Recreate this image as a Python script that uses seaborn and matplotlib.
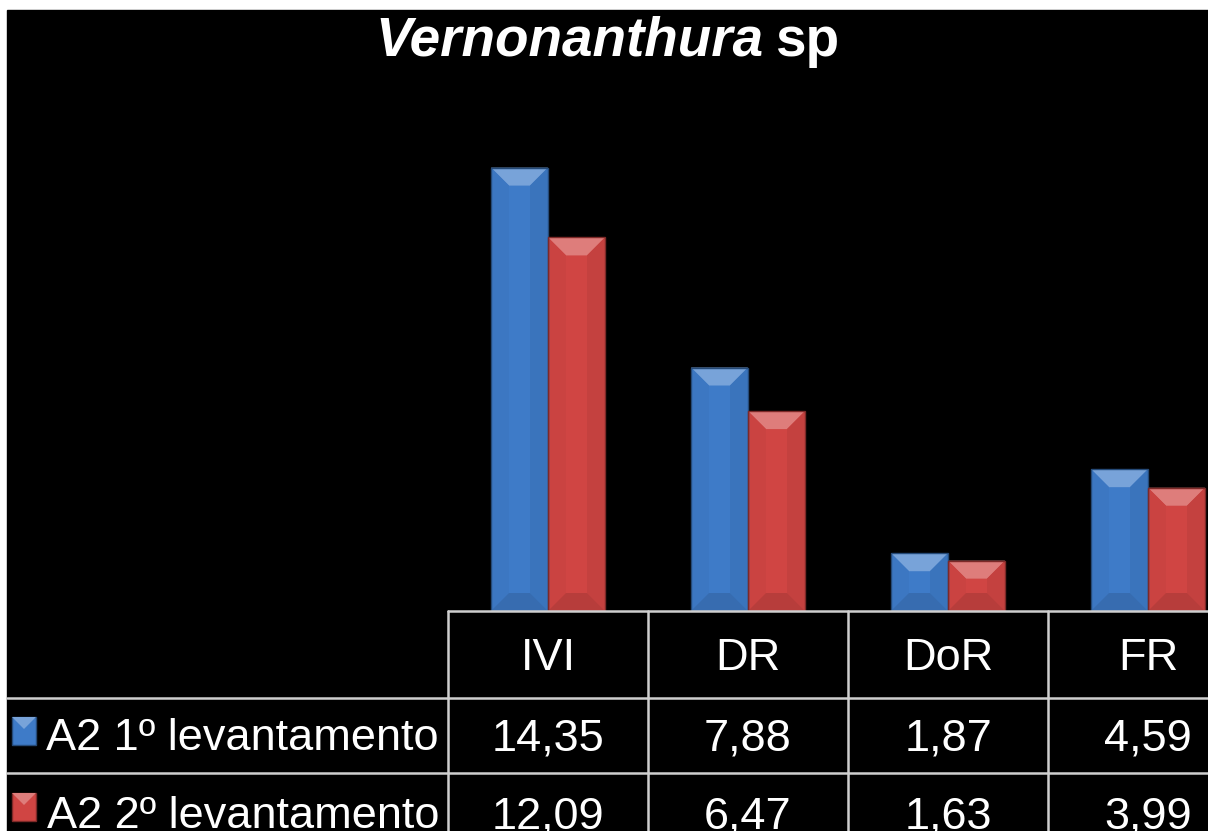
import numpy as np
import pandas as pd
import seaborn as sns
import matplotlib
matplotlib.use('Agg')
import matplotlib.pyplot as plt
import matplotlib.transforms as mtransforms
from matplotlib.patches import Polygon, Rectangle
from matplotlib.lines import Line2D
from matplotlib.colors import to_rgb

categories = ['IVI', 'DR', 'DoR', 'FR']
series = ['A2 1º levantamento', 'A2 2º levantamento']
levant_1 = [14.35, 7.88, 1.87, 4.59]
levant_2 = [12.09, 6.47, 1.63, 3.99]
colors = ['#3E7BC8', '#D04543']

df = pd.DataFrame({
    'cat': categories * 2,
    'serie': [series[0]] * 4 + [series[1]] * 4,
    'valor': levant_1 + levant_2,
})

W, H = 1208, 831
sns.set_style('dark')
plt.rcParams['font.family'] = ['Liberation Sans', 'DejaVu Sans']

fig = plt.figure(figsize=(W / 100, H / 100), dpi=100, facecolor='white')
# pixel transform, origin top-left
pix = mtransforms.Affine2D().scale(1 / W, -1 / H).translate(0, 1) + fig.transFigure

# black area (white margin top/left as in original)
fig.patches.append(Rectangle((7, 10), W - 7, H - 10, transform=pix, color='black', zorder=-10))

base_y = 611
ax = fig.add_axes([448 / W, (H - base_y) / H, (W - 448) / W, (base_y - 80) / H])
ax.set_facecolor('none')
sns.barplot(data=df, x='cat', y='valor', hue='serie', hue_order=series,
            palette=colors, width=0.57, saturation=1, legend=False, ax=ax,
            edgecolor='none', linewidth=0)
ax.set_xlim(-0.5, 3.3)
ax.set_ylim(0, (base_y - 80) / 30.9)
ax.set_axis_off()


def mix(c, t, amt):
    c = np.array(to_rgb(c))
    t = np.array(to_rgb(t))
    return tuple(c + (t - c) * amt)


def bevel(axis, x0, y0, w, h, base, dpx):
    # dpx is bevel depth in pixels; convert to data units
    p0 = axis.transData.transform((0, 0))
    p1 = axis.transData.transform((1, 1))
    dx = dpx / abs(p1[0] - p0[0])
    dy = min(dpx / abs(p1[1] - p0[1]), h / 2)
    top = y0 + h
    x1 = x0 + w
    pieces = [
        ([(x0, top), (x1, top), (x1 - dx, top - dy), (x0 + dx, top - dy)], mix(base, 'white', 0.3)),
        ([(x0, top), (x0 + dx, top - dy), (x0 + dx, y0 + dy), (x0, y0)], mix(base, 'black', 0.03)),
        ([(x1, top), (x1 - dx, top - dy), (x1 - dx, y0 + dy), (x1, y0)], mix(base, 'black', 0.06)),
        ([(x0, y0), (x0 + dx, y0 + dy), (x1 - dx, y0 + dy), (x1, y0)], mix(base, 'black', 0.12)),
    ]
    for pts, col in pieces:
        axis.add_patch(Polygon(pts, closed=True, facecolor=col, edgecolor='none', zorder=3))
    axis.add_patch(Rectangle((x0, y0), w, h, facecolor='none',
                             edgecolor=mix(base, 'black', 0.4), linewidth=1, zorder=4))


bars = list(ax.patches)
for i, b in enumerate(bars):
    base = colors[i // len(categories)]
    bevel(ax, b.get_x(), b.get_y(), b.get_width(), b.get_height(), base, 18)

# title
fig.text(764, 56, 'Vernonanthura', transform=pix, ha='right', va='baseline',
         color='white', fontsize=39.5, fontweight='bold', fontstyle='italic')
fig.text(775, 56, 'sp', transform=pix, ha='left', va='baseline',
         color='white', fontsize=39.5, fontweight='bold')

# data table under the bars
line_col = '#CFCFCF'
lw = 1.8
rows_y = [611, 698, 773]
mixed = mtransforms.blended_transform_factory(ax.transData, pix)
fig.add_artist(Line2D([-0.5, 3.3], [rows_y[0], rows_y[0]], transform=mixed, color=line_col, lw=lw))
for ry in rows_y[1:]:
    fig.add_artist(Line2D([7, W], [ry, ry], transform=pix, color=line_col, lw=lw))
for i in range(len(categories)):
    fig.add_artist(Line2D([i - 0.5, i - 0.5], [rows_y[0], H], transform=mixed, color=line_col, lw=lw))

txt_size = 32.5
for i, c in enumerate(categories):
    fig.text(i, 670, c, transform=mixed, ha='center', va='baseline', color='white', fontsize=txt_size)
for r, vals in enumerate([levant_1, levant_2]):
    yb = [750, 828][r]
    for i, v in enumerate(vals):
        fig.text(i, yb, f'{v:.2f}'.replace('.', ','), transform=mixed, ha='center',
                 va='baseline', color='white', fontsize=txt_size)
    fig.text(439, yb, series[r], transform=pix, ha='right', va='baseline',
             color='white', fontsize=txt_size)
    # legend key square
    ky = [717, 793][r]
    base = colors[r]
    fig.patches.append(Rectangle((12, ky), 24, 28, transform=pix, facecolor=base,
                                 edgecolor=mix(base, 'black', 0.4), lw=1, zorder=3))
    fig.patches.append(Polygon([(12, ky), (36, ky), (24, ky + 12)], closed=True, transform=pix,
                               facecolor=mix(base, 'white', 0.3), edgecolor='none', zorder=4))

fig.savefig('out.png', dpi=100, facecolor=fig.get_facecolor())
